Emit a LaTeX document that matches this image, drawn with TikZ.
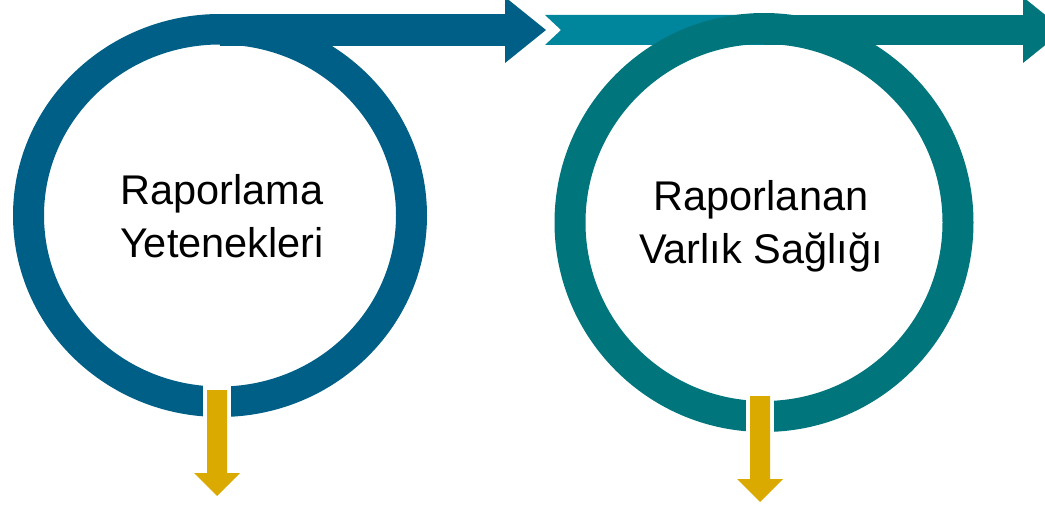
\documentclass[tikz,border=0pt]{standalone}
\usepackage{fontspec}
\setmainfont{Liberation Sans}
\definecolor{dblue}{HTML}{005F87}
\definecolor{dteal}{HTML}{00767C}
\definecolor{lteal}{HTML}{00869C}
\definecolor{gold}{HTML}{DAAA00}
\def\ahead{-- ++(0,-33) -- ++(41,33) -- ++(-41,33) -- cycle}
\def\garrow{-- ++(20,0) -- ++(0,83) -- ++(13,0) -- ++(-23,23) -- ++(-23,-23) -- ++(13,0) -- cycle}
\def\lbl{\fontsize{41.5}{53}\selectfont}

\begin{document}
\begin{tikzpicture}[x=1pt,y=-1pt]
                \clip (0,0) rectangle (1045,505);
                % left loop
                \fill[dblue,even odd rule] (220,215.5) ellipse [x radius=207,y radius=201.5]
                    (220,215.5) ellipse [x radius=176,y radius=171];
                \fill[dblue] (220,14) rectangle (505,46);
                \fill[dblue] (505,30) \ahead;
                \fill[white] (203,370) rectangle (231,430);
                \fill[gold] (207,390) \garrow;
                \node[align=center,inner sep=0,font=\lbl] (caps) at (222,216) {Raporlama\\Yetenekleri};
                % right loop
                \fill[lteal] (545,15) -- (764,15) -- (764,45) -- (545,45) -- (561,30) -- cycle;
                \fill[dteal,even odd rule] (764,222.5) circle (209.5) (764,222.5) circle (178.5);
                \fill[dteal] (764,15) rectangle (1023,45);
                \fill[dteal] (1023,30) \ahead;
                \fill[white] (746,380) rectangle (774,440);
                \fill[gold] (750,396) \garrow;
                \node[align=center,inner sep=0,font=\lbl] (health) at (761,226) {Raporlanan\\Varlık Sağlığı};
            \end{tikzpicture}
\end{document}
